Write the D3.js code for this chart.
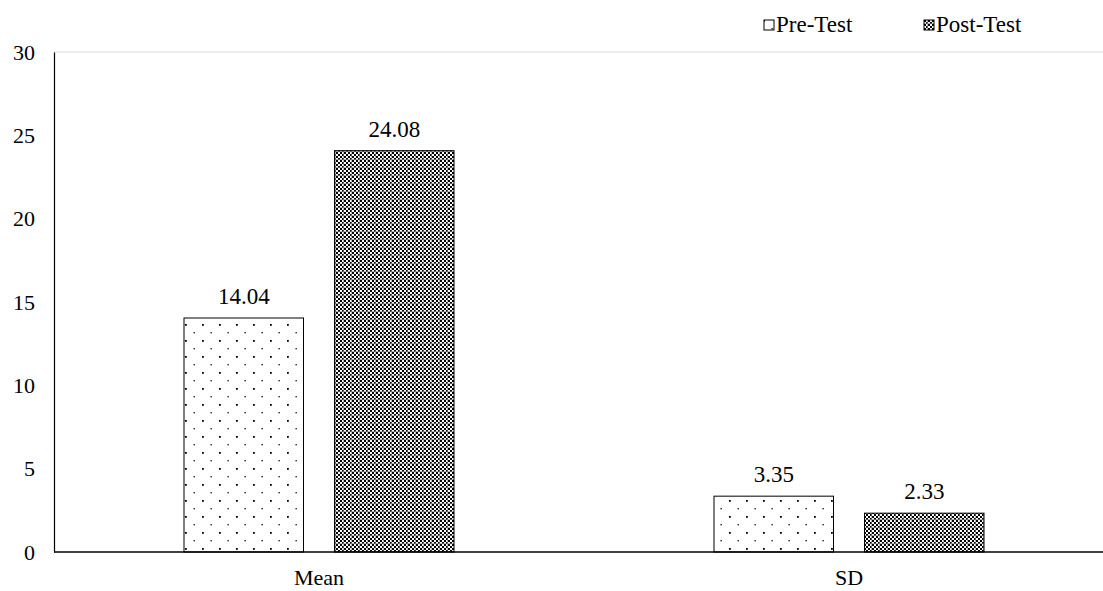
<!DOCTYPE html>
<html><head><meta charset="utf-8">
<script src="https://cdn.jsdelivr.net/npm/d3@7"></script>
<style>body{margin:0;background:#fff}svg{display:block}text{font-family:"Liberation Serif","Times New Roman","DejaVu Serif",serif;fill:#000}</style>
</head><body><div id="c"></div>
<script>
const categories = ["Mean", "SD"];
const seriesNames = ["Pre-Test", "Post-Test"];
const preTest = [14.04, 3.35];
const postTest = [24.08, 2.33];
const yTicks = [0, 5, 10, 15, 20, 25, 30];

const W = 1103, H = 591;
const FONT = '"Liberation Serif","Times New Roman",serif';
const svg = d3.select("#c").append("svg").attr("width", W).attr("height", H);
const defs = svg.append("defs");
// dotted pattern
const pd = defs.append("pattern").attr("id","dots").attr("patternUnits","userSpaceOnUse")
  .attr("width",17).attr("height",16).attr("x",185).attr("y",4);
pd.append("rect").attr("width",17).attr("height",16).attr("fill","#fff");
pd.append("rect").attr("x",0).attr("y",0).attr("width",1.8).attr("height",1.8).attr("fill","#000");
pd.append("rect").attr("x",8.5).attr("y",8).attr("width",1.3).attr("height",1.3).attr("fill","#000");
// checker pattern
const pc = defs.append("pattern").attr("id","check").attr("patternUnits","userSpaceOnUse")
  .attr("width",8).attr("height",8);
pc.append("rect").attr("width",8).attr("height",8).attr("fill","#fff");
[[0,0],[2,2],[4,0],[6,2],[0,4],[2,6],[4,4],[6,6]].forEach(([a,b])=>
  pc.append("rect").attr("x",a).attr("y",b).attr("width",2).attr("height",2).attr("fill","#000"));
pc.append("rect").attr("x",0).attr("y",7).attr("width",8).attr("height",1).attr("fill","#888").attr("opacity",0.6);
pc.append("rect").attr("x",7).attr("y",0).attr("width",1).attr("height",8).attr("fill","#888").attr("opacity",0.6);
const fills = ["url(#dots)", "url(#check)"];

const x0 = d3.scaleBand().domain(categories).range([54, 1114]).paddingInner(0).paddingOuter(0);
const y = d3.scaleLinear().domain([0, 30]).range([552, 52]);

// top light line
svg.append("line").attr("x1",54).attr("x2",1103).attr("y1",y(30)).attr("y2",y(30))
  .attr("stroke","#d9d9d9").attr("stroke-width",1);

const data = categories.map((c,i)=>({cat:c, vals:[preTest[i], postTest[i]]}));
const bw = 119.5, gap = 31;
const g = svg.append("g");
data.forEach(d=>{
  const c = x0(d.cat) + x0.bandwidth()/2;
  d.vals.forEach((v,j)=>{
    const xs = c - (bw*2+gap)/2 + j*(bw+gap);
    g.append("rect").attr("x",xs).attr("y",y(v)).attr("width",bw).attr("height",y(0)-y(v))
      .attr("fill",fills[j]).attr("stroke","#000").attr("stroke-width",1);
    g.append("text").attr("x",xs+bw/2).attr("y",y(v)-14).attr("text-anchor","middle")
      .attr("font-size",23).attr("font-family",FONT).text(v.toFixed(2));
  });
});

// y axis
const ya = svg.append("g").attr("transform","translate(54,0)")
  .call(d3.axisLeft(y).tickValues(yTicks).tickSize(0).tickPadding(19));
ya.select(".domain").attr("stroke","#000").attr("stroke-width",1.2);
ya.selectAll("text").attr("font-size",22).attr("font-family",FONT).attr("fill","#000");

// x axis
const xa = svg.append("g").attr("transform","translate(0,552)")
  .call(d3.axisBottom(x0).tickSize(0).tickPadding(17));
xa.select(".domain").attr("d","M54,0H1103").attr("stroke","#000").attr("stroke-width",1.5);
xa.selectAll("text").attr("font-size",22).attr("font-family",FONT).attr("fill","#000");

// legend
const leg = svg.append("g");
const legX = [764, 924];
seriesNames.forEach((n,i)=>{
  leg.append("rect").attr("x",legX[i]).attr("y",20).attr("width",10).attr("height",10)
    .attr("fill",fills[i]).attr("stroke","#000").attr("stroke-width",1);
  leg.append("text").attr("x",legX[i]+12).attr("y",32).attr("font-size",23).attr("font-family",FONT).text(n);
});
</script></body></html>
